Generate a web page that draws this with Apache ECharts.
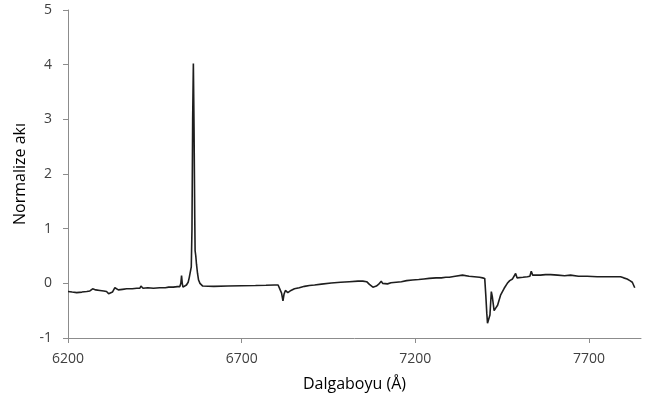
<!DOCTYPE html>
<html>
<head>
    <meta charset="utf-8">
    <script src="https://cdn.jsdelivr.net/npm/echarts@6/dist/echarts.min.js"></script>
</head>
<body style="margin:0">
    <div id="main" style="width:661px;height:406px"></div>
    <script type="text/javascript">
        // wavelength (Angstrom) and normalised flux
        var wavelength = [6200,6212,6225,6240,6254,6263,6271,6280,6292,6303,6311,6317,6321,6328,6335,6340,6345,6357,6369,6385,6398,6407,6410,6412,6414,6416,6430,6446,6464,6480,6490,6503,6515,6522,6525,6527,6529,6531,6536,6541,6546,6549,6552,6555,6557,6559,6561,6563,6565,6566,6568,6570,6573,6576,6580,6588,6620,6660,6700,6740,6770,6795,6800,6805,6810,6815,6819,6822,6826,6830,6833,6842,6852,6866,6881,6895,6910,6930,6958,6985,7010,7035,7049,7060,7068,7073,7078,7082,7088,7094,7102,7106,7111,7120,7130,7145,7160,7175,7192,7210,7225,7240,7260,7275,7288,7292,7298,7315,7336,7341,7355,7370,7385,7394,7400,7403,7406,7408,7411,7415,7419,7422,7427,7432,7437,7446,7456,7465,7472,7480,7485,7489,7493,7497,7510,7523,7530,7534,7538,7544,7560,7575,7590,7610,7630,7647,7670,7695,7724,7750,7775,7791,7800,7810,7818,7825,7832];
        var flux = [-0.15,-0.16,-0.17,-0.16,-0.15,-0.14,-0.10,-0.12,-0.13,-0.14,-0.15,-0.19,-0.22,-0.16,-0.08,-0.11,-0.12,-0.11,-0.10,-0.10,-0.09,-0.09,-0.05,-0.02,-0.07,-0.09,-0.08,-0.09,-0.08,-0.08,-0.07,-0.07,-0.06,-0.06,0.0,0.14,0.0,-0.07,-0.05,-0.03,0.02,0.10,0.20,0.30,1.0,3.0,4.02,2.8,1.2,0.6,0.5,0.35,0.18,0.06,0.0,-0.05,-0.055,-0.05,-0.045,-0.04,-0.035,-0.03,-0.01,-0.03,-0.05,-0.18,-0.32,-0.2,-0.13,-0.15,-0.17,-0.13,-0.10,-0.08,-0.055,-0.04,-0.03,-0.015,0.005,0.02,0.03,0.04,0.04,0.03,-0.02,-0.04,-0.07,-0.08,-0.05,-0.02,0.04,0.0,-0.02,-0.01,0.01,0.02,0.03,0.05,0.06,0.07,0.08,0.09,0.10,0.10,0.11,0.13,0.11,0.13,0.15,0.15,0.13,0.12,0.11,0.10,0.09,-0.21,-0.55,-0.73,-0.76,-0.58,-0.15,-0.25,-0.50,-0.45,-0.40,-0.21,-0.09,0.0,0.05,0.08,0.10,0.18,0.10,0.10,0.11,0.12,0.13,0.22,0.15,0.15,0.15,0.16,0.16,0.15,0.14,0.15,0.13,0.13,0.12,0.12,0.12,0.12,0.10,0.08,0.05,0.02,-0.08];
        var xTicks = [6200, 6700, 7200, 7700];

        var points = [];
        for (var i = 0; i < wavelength.length; i++) {
            points.push([wavelength[i], flux[i]]);
        }

        var axisColor = '#8c8c8c';
        var textColor = '#404040';
        var fontFamily = '"Open Sans", sans-serif';

        var myChart = echarts.init(document.getElementById('main'));
        var option = {
            animation: false,
            grid: { left: 68, right: 20, top: 10, bottom: 68 },
            xAxis: {
                type: 'value',
                min: 6200,
                max: 7850,
                interval: 500,
                name: 'Dalgaboyu (Å)',
                nameLocation: 'middle',
                nameGap: 38,
                nameTextStyle: { fontSize: 16, color: '#000', fontFamily: fontFamily },
                splitLine: { show: false },
                axisLine: { onZero: false, lineStyle: { color: axisColor, width: 1 } },
                axisTick: { customValues: xTicks, length: 5, lineStyle: { color: axisColor } },
                axisLabel: {
                    customValues: xTicks, margin: 14, fontSize: 14, color: textColor, fontFamily: fontFamily,
                    formatter: function (v) { return String(v); }
                }
            },
            yAxis: {
                type: 'value',
                min: -1,
                max: 5,
                interval: 1,
                name: 'Normalize akı',
                nameLocation: 'middle',
                nameGap: 34,
                nameTextStyle: { fontSize: 16, color: '#000', fontFamily: fontFamily },
                splitLine: { show: false },
                axisLine: { show: true, onZero: false, lineStyle: { color: axisColor, width: 1 } },
                axisTick: { show: true, length: 5, lineStyle: { color: axisColor } },
                axisLabel: { margin: 16, fontSize: 14, color: textColor, fontFamily: fontFamily }
            },
            series: [{
                type: 'line',
                data: points,
                symbol: 'none',
                lineStyle: { color: '#1e1e1e', width: 1.6 }
            }]
        };
        myChart.setOption(option);
    </script>
</body>
</html>
